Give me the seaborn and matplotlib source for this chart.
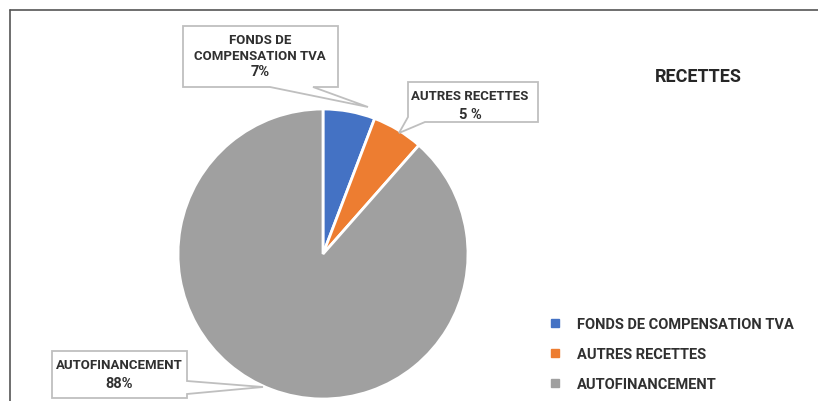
import matplotlib.pyplot as plt
import seaborn as sns
from matplotlib.patches import Polygon
from matplotlib.lines import Line2D

# Données
categories = ['FONDS DE COMPENSATION TVA', 'AUTRES RECETTES', 'AUTOFINANCEMENT']
parts = [5.8, 5.7, 88.5]
etiquettes = ['7%', '5 %', '88%']
couleurs = ['#4472C4', '#ED7D31', '#A0A0A0']

sns.set_theme(style='white')
plt.rcParams['font.family'] = ['Roboto', 'DejaVu Sans']
texte = '#303030'

W, H = 818, 402
fig = plt.figure(figsize=(W / 100, H / 100), dpi=100)


def px(x, y):
    # pixels (origine en haut à gauche) -> coordonnées figure
    return (x / W, 1 - y / H)


# cadre (haut et gauche seulement visibles)
fig.add_artist(Line2D([px(10, 0)[0], 1], [px(0, 11)[1]] * 2, color='#555555', lw=1.2))
fig.add_artist(Line2D([px(10, 0)[0]] * 2, [0, px(0, 11)[1]], color='#555555', lw=1.2))

# camembert
cx, cy, r = 323, 255, 145
ax = fig.add_axes([(cx - r) / W, (H - cy - r) / H, 2 * r / W, 2 * r / H])
wedges, _ = ax.pie(parts, colors=couleurs, startangle=90, counterclock=False,
                   wedgeprops=dict(edgecolor='white', linewidth=2))
ax.set_xlim(-1, 1)
ax.set_ylim(-1, 1)
ax.set_aspect('equal')
ax.axis('off')


def bulle(points, lignes, ys, cxt, tailles):
    poly = Polygon([px(x, y) for x, y in points], closed=True, transform=fig.transFigure,
                   facecolor='white', edgecolor='#BFBFBF', lw=1.3, zorder=5)
    fig.add_artist(poly)
    for t, y, s in zip(lignes, ys, tailles):
        fig.text(*px(cxt, y), t, ha='center', va='center', fontsize=s,
                 fontweight='bold', color=texte, zorder=6)


bulle([(183, 27), (338, 27), (338, 88), (313, 88), (368, 108), (270, 88), (183, 88)],
      ['FONDS DE', 'COMPENSATION TVA', etiquettes[0]], [40, 56, 72], 260, [9.5, 9.5, 10.5])
bulle([(408, 83), (538, 83), (538, 123), (425, 123), (399, 134), (408, 118)],
      ['AUTRES RECETTES', etiquettes[1]], [97, 115], 470, [9.5, 10.5])
bulle([(52, 352), (187, 352), (187, 382), (263, 388), (187, 395), (187, 399), (52, 399)],
      ['AUTOFINANCEMENT', etiquettes[2]], [366, 384], 119, [9.5, 10.5])

# titre
fig.text(*px(698, 77), 'RECETTES', ha='center', va='center', fontsize=13,
         fontweight='bold', color='#262626')

# légende
poignees = [Line2D([], [], marker='s', linestyle='none', markersize=6,
                   markerfacecolor=c, markeredgecolor=c) for c in couleurs]
leg = fig.legend(poignees, categories, loc='upper left', bbox_to_anchor=px(535, 305),
                 frameon=False, handlelength=1.0, handletextpad=1.0, labelspacing=1.1,
                 prop=dict(size=10.5, weight='bold'))
for t in leg.get_texts():
    t.set_color(texte)

fig.savefig('out.png', dpi=100)
